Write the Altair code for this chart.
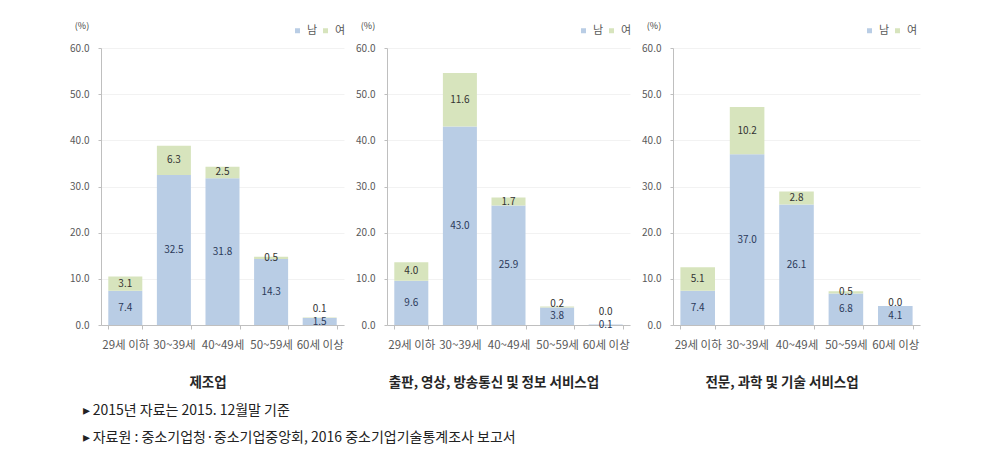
import altair as alt
import pandas as pd

ages = ["29세 이하", "30~39세", "40~49세", "50~59세", "60세 이상"]
industries = ["제조업", "출판, 영상, 방송통신 및 정보 서비스업", "전문, 과학 및 기술 서비스업"]
male_mfg = [7.4, 32.5, 31.8, 14.3, 1.5]
female_mfg = [3.1, 6.3, 2.5, 0.5, 0.1]
male_ict = [9.6, 43.0, 25.9, 3.8, 0.1]
female_ict = [4.0, 11.6, 1.7, 0.2, 0.0]
male_sci = [7.4, 37.0, 26.1, 6.8, 4.1]
female_sci = [5.1, 10.2, 2.8, 0.5, 0.0]
sexes = ["남", "여"]
y_ticks = [0, 10, 20, 30, 40, 50, 60]
notes = ["▸ 2015년 자료는 2015. 12월말 기준",
         "▸ 자료원 : 중소기업청·중소기업중앙회, 2016 중소기업기술통계조사 보고서"]

FONT = "Noto Sans CJK KR"
BLUE = "#b9cde5"
GREEN = "#d7e4bd"
H = 277


def panel(name, male, female, width):
    rows = []
    for a, m, f in zip(ages, male, female):
        rows.append(dict(age=a, sex="남", value=m, ord=0, label_y=m / 2, label=f"{m:.1f}"))
        rows.append(dict(age=a, sex="여", value=f, ord=1,
                         label_y=max(m + f / 2, m / 2 + 2.7), label=f"{f:.1f}"))
    df = pd.DataFrame(rows)
    base = alt.Chart(df)
    xenc = alt.X("age:N", sort=ages,
                 scale=alt.Scale(paddingInner=0.3, paddingOuter=0.15),
                 axis=alt.Axis(title=name, labelAngle=0, labelFontSize=11.5, labelColor="#595959",
                               labelFont=FONT, tickBand="extent", tickSize=4, tickColor="#bfbfbf",
                               domainColor="#bfbfbf", labelPadding=10,
                               titleFont=FONT, titleFontSize=13.5, titleFontWeight="bold",
                               titleColor="#262626", titlePadding=25, titleX=width / 2 - 15))
    yenc = alt.Y("value:Q", stack="zero", scale=alt.Scale(domain=[0, 60]),
                 axis=alt.Axis(values=y_ticks, format=".1f", title="(%)", titleAngle=0,
                               titleX=-19.5, titleY=-17.5, titleAlign="center",
                               titleFontSize=9, titleFontWeight="normal", titleColor="#404040",
                               titleFont=FONT, labelFont=FONT,
                               labelFontSize=10, labelColor="#595959", domainColor="#bfbfbf",
                               tickColor="#bfbfbf", tickSize=3, gridColor="#f2f2f2", labelPadding=9))
    bars = base.mark_bar().encode(
        x=xenc, y=yenc,
        color=alt.Color("sex:N", scale=alt.Scale(domain=sexes, range=[BLUE, GREEN]),
                        legend=alt.Legend(title=None, orient="none", direction="horizontal",
                                          legendX=191, legendY=-23, symbolType="square",
                                          symbolSize=25, labelFontSize=11, labelColor="#595959",
                                          labelFont=FONT, columnPadding=2, labelOffset=4,
                                          symbolStrokeWidth=0)),
        order=alt.Order("ord:Q"),
    )
    text = base.mark_text(fontSize=10, font=FONT).encode(
        x=alt.X("age:N", sort=ages),
        y=alt.Y("label_y:Q"),
        text="label:N",
        color=alt.condition(alt.datum.sex == "남", alt.value("#2b3a5a"), alt.value("#333333")),
    )
    return alt.layer(bars, text).properties(width=width, height=H)


chart = alt.hconcat(
    panel(industries[0], male_mfg, female_mfg, 243),
    panel(industries[1], male_ict, female_ict, 243),
    panel(industries[2], male_sci, female_sci, 247),
    spacing=9,
).resolve_scale(color="independent").properties(
    padding={"left": 61, "top": 13, "right": 5, "bottom": 5},
    title=alt.TitleParams(text=notes, orient="bottom", anchor="start", fontSize=14,
                          fontWeight="normal", font=FONT, color="#222222", lineHeight=27,
                          offset=15, dx=13),
).configure_view(stroke=None)

chart.save("out.html", embed_options={"renderer": "svg", "actions": False})
